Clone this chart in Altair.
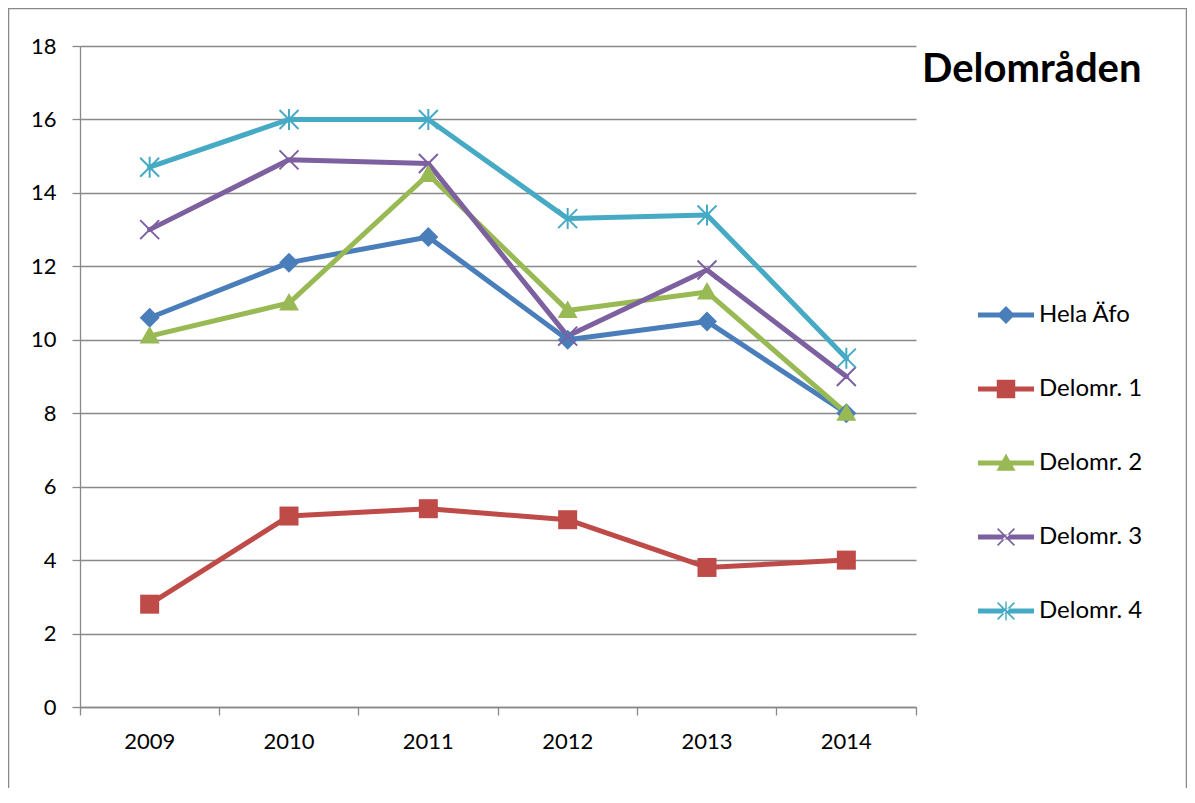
import altair as alt
import pandas as pd

years = ["2009", "2010", "2011", "2012", "2013", "2014"]
series_names = ["Hela Äfo", "Delomr. 1", "Delomr. 2", "Delomr. 3", "Delomr. 4"]
hela = [10.6, 12.1, 12.8, 10.0, 10.5, 8.0]
delomr1 = [2.8, 5.2, 5.4, 5.1, 3.8, 4.0]
delomr2 = [10.1, 11.0, 14.5, 10.8, 11.3, 8.0]
delomr3 = [13.0, 14.9, 14.8, 10.1, 11.9, 9.0]
delomr4 = [14.7, 16.0, 16.0, 13.3, 13.4, 9.5]
y_ticks = [0, 2, 4, 6, 8, 10, 12, 14, 16, 18]
colors = ["#4A7EBB", "#BE4B48", "#98B954", "#7D60A0", "#46AAC5"]

FONT = "Lato"
GRAY = "#898989"

rows = []
for name, vals in zip(series_names, [hela, delomr1, delomr2, delomr3, delomr4]):
    for yr, v in zip(years, vals):
        rows.append({"year": yr, "value": v, "series": name})
df = pd.DataFrame(rows)

# marker shapes for data points
diamond = "M0,-1L1,0L0,1L-1,0Z"
square = "M-0.95,-0.95H0.95V0.95H-0.95Z"
triangle = "M0,-1L1,0.75L-1,0.75Z"
xmark = "M-0.95,-0.95L0.95,0.95M-0.95,0.95L0.95,-0.95"
star = "M-0.95,-0.95L0.95,0.95M-0.95,0.95L0.95,-0.95M0,-1.05L0,1.05"
point_paths = [diamond, square, triangle, xmark, star]

# legend symbols: line segment + marker (filled polygons)
bar = "M-1,-0.09H1V0.09H-1Z"
lg_diamond = bar + "M0,-0.32L0.32,0L0,0.32L-0.32,0Z"
lg_square = bar + "M-0.33,-0.33H0.33V0.33H-0.33Z"
lg_triangle = bar + "M0,-0.34L0.34,0.28L-0.34,0.28Z"
lg_x = bar + ("M-0.32,-0.28L-0.28,-0.32L0.32,0.28L0.28,0.32Z"
              "M0.32,-0.28L0.28,-0.32L-0.32,0.28L-0.28,0.32Z")
lg_star = lg_x + "M-0.025,-0.34H0.025V0.34H-0.025Z"
legend_paths = [lg_diamond, lg_square, lg_triangle, lg_x, lg_star]

x_enc = alt.X(
    "year:N",
    scale=alt.Scale(type="band", domain=years, paddingInner=0, paddingOuter=0),
    axis=alt.Axis(
        title=None, labelAngle=0, bandPosition=1, tickExtra=True, grid=False,
        tickSize=8, tickColor=GRAY, domainColor=GRAY, domainWidth=1.3, tickWidth=1.3,
        labelFontSize=22, labelFont=FONT, labelColor="black", labelPadding=16,
    ),
)
y_enc = alt.Y(
    "value:Q",
    scale=alt.Scale(domain=[0, 18], nice=False, zero=True),
    axis=alt.Axis(
        title=None, values=y_ticks, grid=True, gridColor=GRAY, gridWidth=1.3,
        tickSize=8, tickColor=GRAY, domainColor=GRAY, domainWidth=1.3, tickWidth=1.3,
        labelFontSize=22, labelFont=FONT, labelColor="black", labelPadding=16,
    ),
)
color_enc = alt.Color(
    "series:N", scale=alt.Scale(domain=series_names, range=colors), legend=None
)
shape_enc = alt.Shape(
    "series:N", scale=alt.Scale(domain=series_names, range=point_paths), legend=None
)

base = alt.Chart(df)

lines = base.mark_line(strokeWidth=5, strokeJoin="round", strokeCap="round").encode(
    x=x_enc, y=y_enc, color=color_enc, detail="series:N"
)
filled_pts = base.transform_filter(
    alt.FieldOneOfPredicate(field="series", oneOf=series_names[:3])
).mark_point(filled=True, size=400, opacity=1).encode(
    x=x_enc, y=y_enc, color=color_enc, shape=shape_enc
)
stroked_pts = base.transform_filter(
    alt.FieldOneOfPredicate(field="series", oneOf=series_names[3:])
).mark_point(filled=False, size=400, strokeWidth=2, opacity=1).encode(
    x=x_enc, y=y_enc, color=color_enc, shape=shape_enc
)

legend_params = dict(
    title=None, orient="none", legendX=898, legendY=241, padding=0,
    symbolSize=3136, symbolStrokeWidth=0, labelFontSize=24, labelFont=FONT,
    labelColor="black", labelOffset=5, rowPadding=34, symbolOpacity=1,
)
legend_layer = base.transform_filter("false").mark_point(filled=True).encode(
    x=x_enc, y=y_enc,
    fill=alt.Fill("series:N", scale=alt.Scale(domain=series_names, range=colors),
                  legend=alt.Legend(**legend_params)),
    shape=alt.Shape("series:N", scale=alt.Scale(domain=series_names, range=legend_paths),
                    legend=alt.Legend(**legend_params)),
)

frame = alt.Chart(pd.DataFrame({"a": [0]})).mark_rect(
    fill="transparent", stroke=GRAY, strokeWidth=1.5
).encode(
    x=alt.value(-71.5), x2=alt.value(1106.5), y=alt.value(-37.5), y2=alt.value(800)
)

chart = alt.layer(frame, lines, filled_pts, stroked_pts, legend_layer).resolve_scale(
    shape="independent", fill="independent"
).properties(
    width=836, height=661,
    autosize=alt.AutoSizeParams(type="none"),
    padding={"left": 72, "top": 38, "right": 271, "bottom": 81},
    title=alt.TitleParams(
        "Delområden", anchor="start", frame="group", orient="top",
        dx=842, dy=114, offset=0, baseline="alphabetic",
        fontSize=40, font=FONT, fontWeight="bold", color="black",
    ),
).configure_view(stroke="transparent")

chart.save("out.html", embed_options={"renderer": "svg", "actions": False})
